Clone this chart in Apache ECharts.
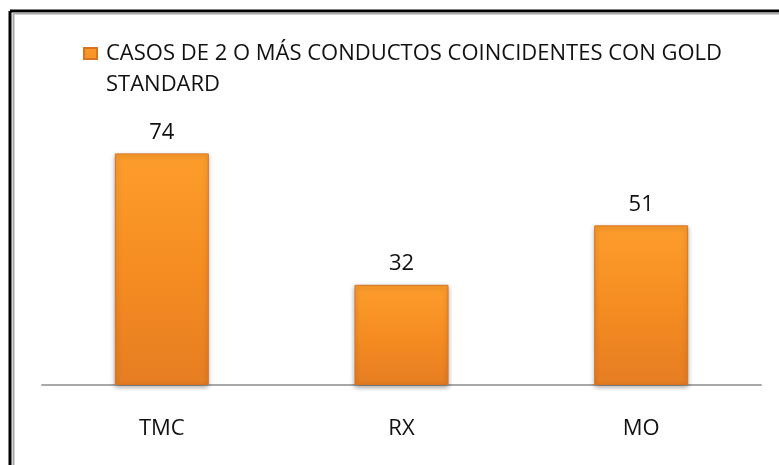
<!DOCTYPE html>
<html>
<head>
<meta charset="utf-8">
<script src="https://cdn.jsdelivr.net/npm/echarts@6/dist/echarts.min.js"></script>
<style>
  html, body { margin: 0; padding: 0; background: #ffffff; }
  #chart { width: 779px; height: 465px; }
</style>
</head>
<body>
<div id="chart"></div>
<script>
var categories = ["TMC", "RX", "MO"];
var casos = [74, 32, 51];
var serieName = "CASOS DE 2 O MÁS CONDUCTOS COINCIDENTES CON GOLD STANDARD";

var mychart = echarts.init(document.getElementById("chart"));
var font = "'Open Sans', sans-serif";

var option = {
  animation: false,
  textStyle: { fontFamily: font, color: "#111111" },
  graphic: [
    // marco negro + linea gris interior
    { type: "line", shape: { x1: 10, y1: 11, x2: 779, y2: 11 }, style: { stroke: "#000000", lineWidth: 3 } },
    { type: "line", shape: { x1: 10, y1: 11, x2: 10, y2: 465 }, style: { stroke: "#000000", lineWidth: 3 } },
    { type: "line", shape: { x1: 13.5, y1: 13.5, x2: 779, y2: 13.5 }, style: { stroke: "#a8a8a8", lineWidth: 2 } },
    { type: "line", shape: { x1: 13.5, y1: 13.5, x2: 13.5, y2: 465 }, style: { stroke: "#a8a8a8", lineWidth: 2 } }
  ],
  legend: {
    left: 78,
    top: 32,
    itemWidth: 17,
    itemHeight: 62,
    // cuadrado arriba, alineado con la primera linea del texto
    icon: "path://M0 10h13v11H0z M0 0 M17 62",
    formatter: function() {
      return "CASOS DE 2 O MÁS CONDUCTOS COINCIDENTES CON GOLD\nSTANDARD";
    },
    textStyle: { fontSize: 22, fontFamily: font, color: "#111111", lineHeight: 31 }
  },
  grid: {
    left: 42,
    right: 18,
    top: 134.6,
    bottom: 80
  },
  xAxis: {
    type: "category",
    data: categories,
    axisLine: { lineStyle: { color: "#a8a8a8", width: 2 } },
    axisTick: { show: false },
    axisLabel: { fontSize: 22, fontFamily: font, color: "#111111", margin: 33 }
  },
  yAxis: {
    type: "value",
    min: 0,
    max: 80,
    show: false,
    splitLine: { show: false }
  },
  series: [
    {
      name: serieName,
      type: "bar",
      data: casos,
      barWidth: 94,
      itemStyle: {
        color: new echarts.graphic.LinearGradient(0, 0, 0, 1, [
          { offset: 0, color: "#fd9d2c" },
          { offset: 0.5, color: "#f58d22" },
          { offset: 1, color: "#e67d22" }
        ]),
        borderColor: "#d9731f",
        borderWidth: 1,
        shadowColor: "rgba(0,0,0,0.35)",
        shadowBlur: 5,
        shadowOffsetY: 2
      },
      label: {
        show: true,
        position: "top",
        distance: 10,
        fontSize: 22,
        fontFamily: font,
        color: "#111111"
      }
    }
  ]
};
mychart.setOption(option, true);
</script>
</body>
</html>
